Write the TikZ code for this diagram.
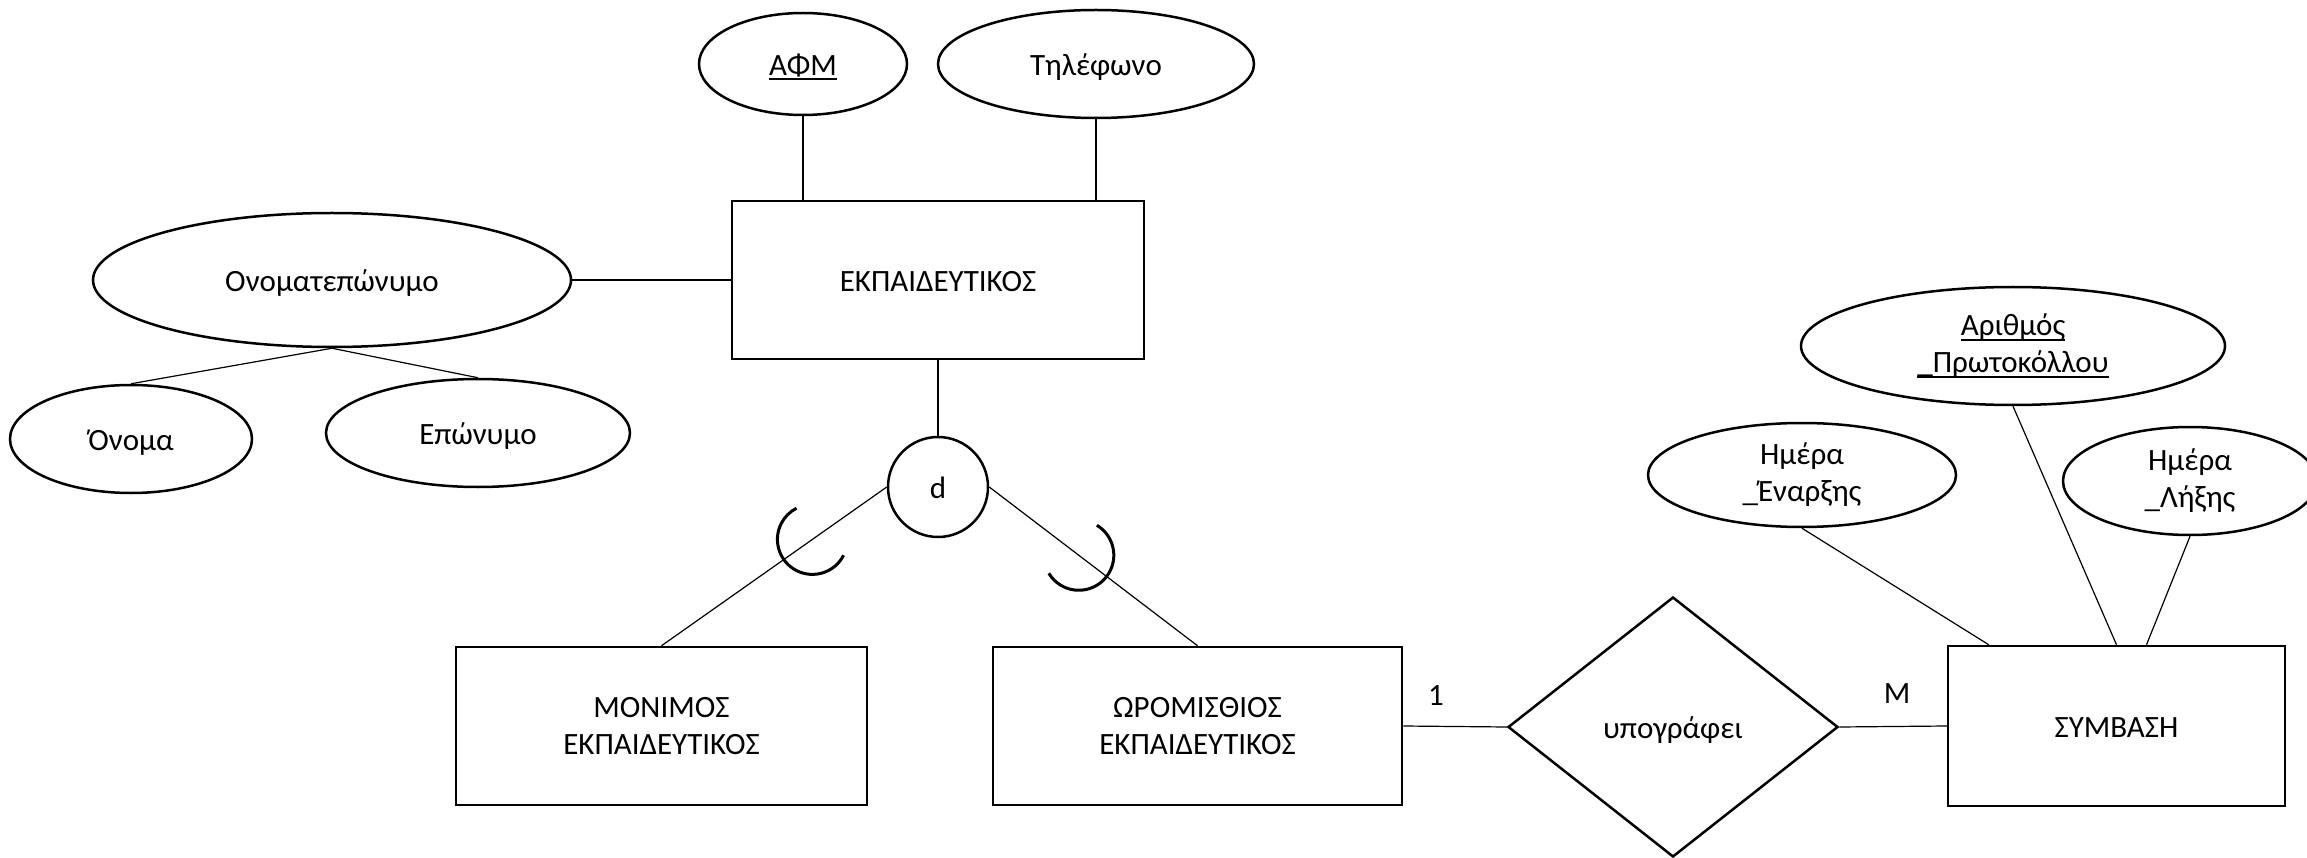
\documentclass[tikz,border=0pt]{standalone}
\usepackage{fontspec}
\setmainfont{Carlito}
\usetikzlibrary{shapes.geometric,calc}
% key attributes: a rule at a fixed depth below the baseline
\newcommand\keyline[1]{\setbox0\hbox{#1}\rlap{\rule[-5pt]{\wd0}{2pt}}\box0}
\begin{document}
\begin{tikzpicture}[x=1pt,y=-1pt,
  every node/.style={font=\fontsize{31pt}{37pt}\selectfont, inner sep=0pt, align=center},
  oneline/.style={text height=23pt, text depth=0pt},
  entity/.style={draw, line width=2.5pt, rectangle},
  attr/.style={draw, line width=2.5pt, ellipse},
  link/.style={line width=1.2pt},
  subset/.style={line width=3pt}]
\useasboundingbox (0,0) rectangle (2307,858);

% entities
\node[entity, oneline, minimum width=412pt, minimum height=158pt] (emp) at (938,280) {ΕΚΠΑΙΔΕΥΤΙΚΟΣ};
\node[entity, minimum width=411pt, minimum height=158pt] (perm) at (661.5,726) {ΜΟΝΙΜΟΣ\\ΕΚΠΑΙΔΕΥΤΙΚΟΣ};
\node[entity, minimum width=409pt, minimum height=158pt] (hourly) at (1197.5,726) {ΩΡΟΜΙΣΘΙΟΣ\\ΕΚΠΑΙΔΕΥΤΙΚΟΣ};
\node[entity, oneline, minimum width=337pt, minimum height=160pt] (contract) at (2116.5,726) {ΣΥΜΒΑΣΗ};

% relationship and specialisation circle
\node[draw, diamond, oneline, line width=2.5pt, minimum width=330pt, minimum height=260pt] (signs) at (1673,727) {υπογράφει};
\node[draw, circle, oneline, line width=2.5pt, minimum size=100pt] (d) at (938,487) {d};

% attributes
\node[attr, oneline, minimum width=208pt, minimum height=102pt] (afm) at (803,64) {\keyline{ΑΦΜ}};
\node[attr, oneline, minimum width=316pt, minimum height=108pt] (tel) at (1096,64) {Τηλέφωνο};
\node[attr, oneline, minimum width=478pt, minimum height=134pt] (fullname) at (332,280) {Ονοματεπώνυμο};
\node[attr, oneline, minimum width=242pt, minimum height=108pt] (first) at (131,439) {Όνομα};
\node[attr, oneline, minimum width=304pt, minimum height=108pt] (last) at (478,433) {Επώνυμο};
\node[attr, minimum width=424pt, minimum height=118pt] (protocol) at (2013,346) {\keyline{Αριθμός}\\\keyline{\_Πρωτοκόλλου}};
\node[attr, minimum width=308pt, minimum height=104pt] (start) at (1802,475) {Ημέρα\\\_Έναρξης};
\node[attr, minimum width=254pt, minimum height=108pt] (end) at (2190,481) {Ημέρα\\\_Λήξης};

% cardinalities
\node (one) at (1436,696) {1};
\node (many) at (1897,694) {M};

% connectors
\draw[link] (afm.south) -- (afm.south |- emp.north);
\draw[link] (tel.south) -- (tel.south |- emp.north);
\draw[link] (fullname.east) -- (emp.west);
\draw[link] (fullname.south) -- (first.north);
\draw[link] (fullname.south) -- (last.north);
\draw[link] (emp.south) -- (d.north);
\draw[link] (d.west) -- (perm.north);
\draw[link] (d.east) -- (hourly.north);
\draw[link] (hourly.east) -- (signs.west);
\draw[link] (signs.east) -- (contract.west);
\draw[link] (start.south) -- ([xshift=42pt]contract.north west);
\draw[link] (protocol.south) -- (contract.north);
\draw[link] (end.south) -- ([xshift=30pt]contract.north);

% subset marks on the specialisation lines
\coordinate (sl) at ($(d.west)!0.33!(perm.north)$);
\coordinate (sr) at ($(d.east)!0.43!(hourly.north)$);
\draw[subset] ($(sl)+(27:35)$) arc[start angle=27, end angle=243, radius=35];
\draw[subset] ($(sr)+(-59:35)$) arc[start angle=-59, end angle=149, radius=35];
\end{tikzpicture}
\end{document}
